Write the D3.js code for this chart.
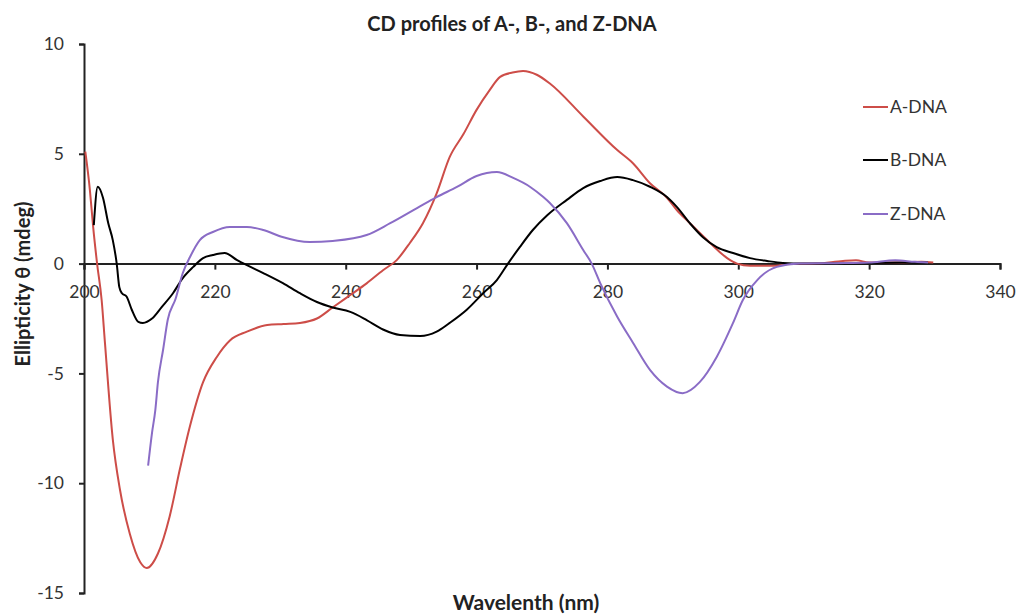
<!DOCTYPE html>
<html>
<head>
<meta charset="utf-8">
<script src="https://cdn.jsdelivr.net/npm/d3@7"></script>
<style>
  html, body { margin: 0; padding: 0; background: #fff; }
  svg { display: block; font-family: Lato, "Open Sans", sans-serif; }
</style>
</head>
<body>
<svg id="chart" width="1019" height="614"></svg>
<script>
// ---- Data ----
const seriesNames = ["A-DNA", "B-DNA", "Z-DNA"];

const aWavelength = [200.2, 200.9, 201.4, 202.0, 202.7, 203.2, 204.4, 205.5, 207.0, 208.6, 209.6, 211.3, 213.1, 214.7, 216.2, 218.2, 220.3, 222.3, 224.9, 228.0, 230.5, 233.0, 235.6, 238.0, 240.7, 243.2, 245.7, 247.8, 249.8, 251.8, 253.9, 255.9, 258.0, 260.0, 262.0, 263.6, 265.5, 267.1, 269.2, 271.2, 276.3, 281.5, 283.9, 286.5, 289.1, 290.6, 292.6, 295.7, 298.3, 299.8, 301.8, 305.0, 308.0, 312.0, 316.0, 318.0, 320.0, 324.0, 328.0, 329.8];
const aValues = [5.1, 3.35, 1.67, 0, -1.67, -3.6, -8.0, -10.3, -12.3, -13.6, -13.86, -13.2, -11.5, -9.3, -7.4, -5.4, -4.25, -3.5, -3.1, -2.8, -2.75, -2.7, -2.5, -2.0, -1.43, -0.9, -0.3, 0.16, 0.94, 1.84, 3.2, 4.86, 5.9, 7.0, 7.9, 8.5, 8.7, 8.77, 8.6, 8.2, 6.7, 5.17, 4.57, 3.66, 3.0, 2.44, 1.84, 0.94, 0.25, 0.0, -0.1, -0.1, -0.02, 0.0, 0.12, 0.15, 0.05, 0.05, 0.08, 0.05];

const bWavelength = [201.5, 202.1, 202.9, 203.7, 204.4, 205.0, 205.4, 205.8, 206.5, 207.3, 208.3, 209.0, 210.4, 211.9, 213.6, 215.1, 216.7, 218.2, 219.7, 221.5, 223.4, 224.9, 227.4, 230.4, 233.0, 235.6, 238.0, 240.7, 243.2, 245.7, 248.3, 251.4, 253.9, 255.9, 258.5, 261.0, 263.1, 264.8, 266.6, 268.6, 270.8, 273.8, 276.3, 278.9, 281.5, 283.9, 286.5, 289.1, 290.6, 292.6, 294.6, 296.7, 299.2, 301.8, 304.4, 306.8, 310.0, 315.0, 320.0, 325.0, 329.0];
const bValues = [1.75, 3.5, 3.0, 1.85, 1.07, 0, -1.07, -1.35, -1.5, -2.1, -2.65, -2.7, -2.5, -1.97, -1.35, -0.66, -0.15, 0.25, 0.39, 0.48, 0.16, -0.07, -0.43, -0.89, -1.35, -1.75, -2.0, -2.2, -2.57, -3.0, -3.25, -3.3, -3.1, -2.7, -2.1, -1.35, -0.75, 0, 0.75, 1.53, 2.2, 2.9, 3.44, 3.76, 3.94, 3.8, 3.5, 3.03, 2.58, 1.84, 1.2, 0.75, 0.48, 0.25, 0.12, 0.03, 0.0, 0.0, 0.02, 0.05, 0.05];

const zWavelength = [209.8, 210.4, 210.9, 211.3, 212.1, 212.8, 214.0, 215.1, 216.2, 217.7, 219.7, 222.3, 224.9, 227.4, 230.2, 234.5, 238.0, 243.2, 246.8, 250.9, 253.9, 257.0, 260.0, 263.1, 265.6, 268.2, 270.2, 271.2, 273.8, 276.3, 277.6, 278.9, 281.5, 283.9, 286.5, 289.1, 291.5, 294.1, 296.7, 299.2, 300.7, 302.9, 305.9, 309.4, 315.0, 320.0, 324.0, 327.0, 329.0];
const zValues = [-9.2, -7.7, -6.67, -5.4, -3.9, -2.56, -1.6, -0.43, 0.3, 1.07, 1.44, 1.67, 1.67, 1.53, 1.22, 0.98, 1.03, 1.3, 1.84, 2.53, 3.03, 3.49, 3.99, 4.17, 3.9, 3.49, 3.03, 2.76, 1.84, 0.62, 0, -0.89, -2.42, -3.6, -4.84, -5.6, -5.9, -5.4, -4.25, -2.7, -1.66, -0.75, -0.15, 0, 0.02, 0.05, 0.15, 0.08, 0.05];

const xTicks = [200, 220, 240, 260, 280, 300, 320, 340];
const yTicks = [10, 5, 0, -5, -10, -15];

const seriesColors = ["#cd4d48", "#000000", "#8a6cc6"];

// ---- Layout ----
const svg = d3.select("#chart");
const x = d3.scaleLinear().domain([200, 340]).range([84, 1000]);
const y = d3.scaleLinear().domain([-15, 10]).range([593, 44]);

const series = [
  { name: seriesNames[0], color: seriesColors[0], pts: aWavelength.map((w, i) => [w, aValues[i]]) },
  { name: seriesNames[1], color: seriesColors[1], pts: bWavelength.map((w, i) => [w, bValues[i]]) },
  { name: seriesNames[2], color: seriesColors[2], pts: zWavelength.map((w, i) => [w, zValues[i]]) }
];

// Title
svg.append("text")
  .attr("x", 512).attr("y", 31)
  .attr("text-anchor", "middle")
  .attr("font-weight", "bold")
  .attr("font-size", 20)
  .attr("fill", "#222")
  .text("CD profiles of A-, B-, and Z-DNA");

// Y axis
const yAxis = d3.axisLeft(y).tickValues(yTicks).tickSize(5).tickPadding(15).tickFormat(d => String(d));
const gy = svg.append("g").attr("transform", `translate(${x(200)},0)`).call(yAxis);
gy.select(".domain").attr("stroke", "#222").attr("stroke-width", 2);
gy.selectAll(".tick line").attr("stroke", "#222").attr("stroke-width", 2);
gy.selectAll(".tick text").attr("font-size", 17.5).attr("fill", "#333").attr("font-family", "Lato, 'Open Sans', sans-serif");

// X axis at y = 0
const xAxis = d3.axisBottom(x).tickValues(xTicks).tickSize(6).tickPadding(16).tickFormat(d => String(d));
const gx = svg.append("g").attr("transform", `translate(0,${y(0)})`).call(xAxis);
gx.select(".domain").attr("stroke", "#222").attr("stroke-width", 2);
gx.selectAll(".tick line").attr("stroke", "#222").attr("stroke-width", 2);
gx.selectAll(".tick text").attr("font-size", 17.5).attr("fill", "#333").attr("font-family", "Lato, 'Open Sans', sans-serif");

// Axis titles
svg.append("text")
  .attr("x", 526).attr("y", 610)
  .attr("text-anchor", "middle")
  .attr("font-weight", "bold")
  .attr("font-size", 21)
  .attr("fill", "#222")
  .text("Wavelenth (nm)");

svg.append("text")
  .attr("transform", "translate(30,284) rotate(-90)")
  .attr("text-anchor", "middle")
  .attr("font-weight", "bold")
  .attr("font-size", 20)
  .attr("fill", "#222")
  .text("Ellipticity θ (mdeg)");

// Lines
const line = d3.line().x(d => x(d[0])).y(d => y(d[1])).curve(d3.curveMonotoneX);
svg.append("g").selectAll("path").data(series).join("path")
  .attr("d", d => line(d.pts))
  .attr("fill", "none")
  .attr("stroke", d => d.color)
  .attr("stroke-width", 2)
  .attr("stroke-linejoin", "round");

// Legend
const legendY = [107, 160, 214];
const lg = svg.append("g").selectAll("g").data(series).join("g")
  .attr("transform", (d, i) => `translate(863,${legendY[i]})`);
lg.append("line").attr("x1", 0).attr("x2", 25).attr("y1", 0).attr("y2", 0)
  .attr("stroke", d => d.color).attr("stroke-width", 2);
lg.append("text").attr("x", 27).attr("y", 0).attr("dy", "0.35em")
  .attr("font-size", 17.5).attr("fill", "#333")
  .text(d => d.name);
</script>
</body>
</html>
